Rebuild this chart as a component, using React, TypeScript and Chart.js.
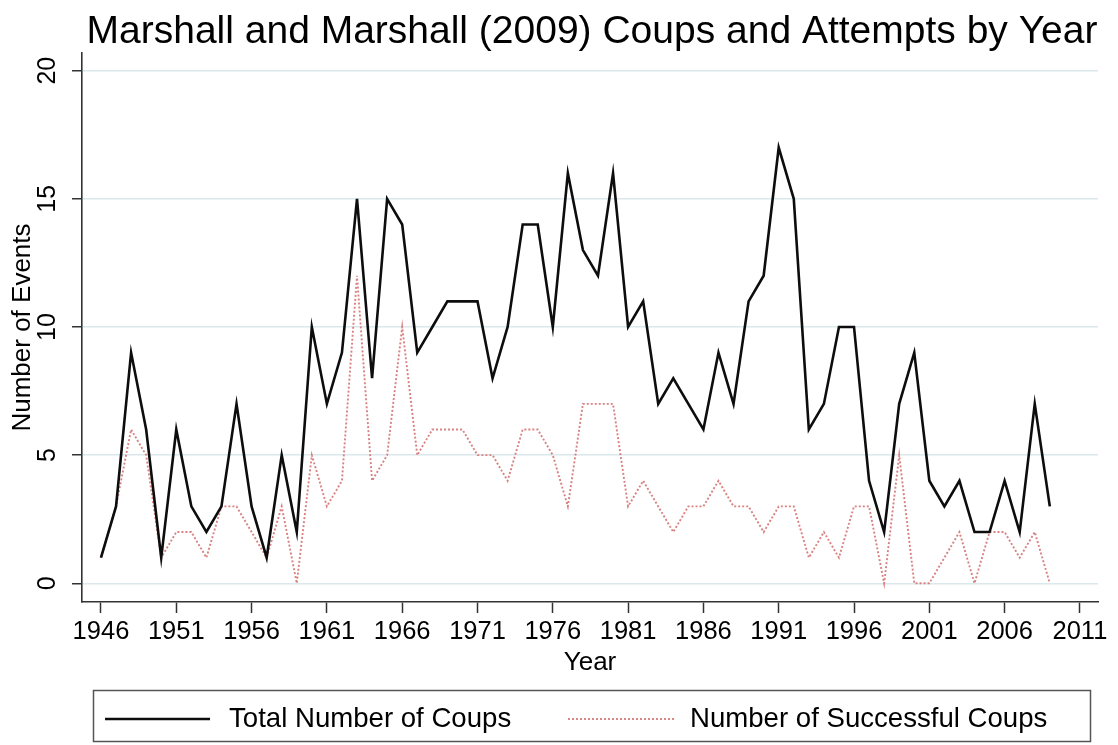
import { useEffect, useRef } from "react";
import { Chart, registerables } from "chart.js";

Chart.register(...registerables);

const FONT = '"Liberation Sans", Arial, Helvetica, sans-serif';

const titleText = "Marshall and Marshall (2009) Coups and Attempts by Year";
const xAxisTitle = "Year";
const yAxisTitle = "Number of Events";
const seriesLabels = ["Total Number of Coups", "Number of Successful Coups"];

const years = [
  1946, 1947, 1948, 1949, 1950, 1951, 1952, 1953, 1954, 1955,
  1956, 1957, 1958, 1959, 1960, 1961, 1962, 1963, 1964, 1965,
  1966, 1967, 1968, 1969, 1970, 1971, 1972, 1973, 1974, 1975,
  1976, 1977, 1978, 1979, 1980, 1981, 1982, 1983, 1984, 1985,
  1986, 1987, 1988, 1989, 1990, 1991, 1992, 1993, 1994, 1995,
  1996, 1997, 1998, 1999, 2000, 2001, 2002, 2003, 2004, 2005,
  2006, 2007, 2008, 2009,
];

const totalCoups = [
  1, 3, 9, 6, 1, 6, 3, 2, 3, 7,
  3, 1, 5, 2, 10, 7, 9, 15, 8, 15,
  14, 9, 10, 11, 11, 11, 8, 10, 14, 14,
  10, 16, 13, 12, 16, 10, 11, 7, 8, 7,
  6, 9, 7, 11, 12, 17, 15, 6, 7, 10,
  10, 4, 2, 7, 9, 4, 3, 4, 2, 2,
  4, 2, 7, 3,
];

const successfulCoups = [
  1, 3, 6, 5, 1, 2, 2, 1, 3, 3,
  2, 1, 3, 0, 5, 3, 4, 12, 4, 5,
  10, 5, 6, 6, 6, 5, 5, 4, 6, 6,
  5, 3, 7, 7, 7, 3, 4, 3, 2, 3,
  3, 4, 3, 3, 2, 3, 3, 1, 2, 1,
  3, 3, 0, 5, 0, 0, 1, 2, 0, 2,
  2, 1, 2, 0,
];

const xTickYears = [1946, 1951, 1956, 1961, 1966, 1971, 1976, 1981, 1986, 1991, 1996, 2001, 2006, 2011];
const yTickValues = [0, 5, 10, 15, 20];

const AXIS_COLOR = "#333333";
const GRID_COLOR = "#dbe8ec";

const overlayPlugin = {
  id: "overlay",
  afterDraw(chart: any) {
    const { ctx, chartArea, scales } = chart;
    ctx.save();
    // Title
    ctx.fillStyle = "#000";
    ctx.font = `39px ${FONT}`;
    ctx.textAlign = "center";
    ctx.textBaseline = "alphabetic";
    ctx.fillText(titleText, (chartArea.left + chartArea.right) / 2 + 2, 43);

    // Rotated y tick labels
    const ys = scales.y;
    ctx.font = `25px ${FONT}`;
    for (const v of yTickValues) {
      const py = ys.getPixelForValue(v);
      ctx.save();
      ctx.translate(chartArea.left - 34, py);
      ctx.rotate(-Math.PI / 2);
      ctx.textAlign = "center";
      ctx.textBaseline = "middle";
      ctx.fillText(String(v), 0, 0);
      ctx.restore();
    }

    // Legend
    ctx.strokeStyle = "#555";
    ctx.lineWidth = 1.5;
    ctx.strokeRect(93.5, 690.5, 997, 51);
    const ly = 719;
    const items = [
      { x0: 105, x1: 210, tx: 229 },
      { x0: 568, x1: 676, tx: 690 },
    ];
    chart.data.datasets.forEach((ds: any, i: number) => {
      const it = items[i];
      ctx.save();
      ctx.strokeStyle = ds.borderColor;
      ctx.lineWidth = ds.borderWidth;
      ctx.setLineDash(ds.borderDash || []);
      ctx.beginPath();
      ctx.moveTo(it.x0, ly);
      ctx.lineTo(it.x1, ly);
      ctx.stroke();
      ctx.restore();
      ctx.fillStyle = "#000";
      ctx.font = `27.6px ${FONT}`;
      ctx.textAlign = "left";
      ctx.textBaseline = "middle";
      ctx.fillText(ds.label, it.tx, ly);
    });
    ctx.restore();
  },
};

export default function App() {
  const canvasRef = useRef<HTMLCanvasElement | null>(null);

  useEffect(() => {
    document.body.style.margin = "0";
    const canvas = canvasRef.current;
    if (!canvas) return;
    Chart.defaults.font.family = FONT;
    const chart = new Chart(canvas, {
      type: "line",
      data: {
        datasets: [
          {
            label: seriesLabels[0],
            data: years.map((y, i) => ({ x: y, y: totalCoups[i] })),
            borderColor: "#0d0d0d",
            borderWidth: 2.6,
            pointRadius: 0,
            tension: 0,
            fill: false,
          },
          {
            label: seriesLabels[1],
            data: years.map((y, i) => ({ x: y, y: successfulCoups[i] })),
            borderColor: "#d98282",
            borderWidth: 1.9,
            borderDash: [2, 2],
            pointRadius: 0,
            tension: 0,
            fill: false,
          },
        ],
      },
      options: {
        animation: false,
        responsive: false,
        devicePixelRatio: 1,
        layout: { padding: { top: 53, right: 20, bottom: 63, left: 0 } },
        plugins: {
          legend: { display: false },
          title: { display: false },
          tooltip: { enabled: false },
        },
        scales: {
          x: {
            type: "linear",
            min: 1944.74,
            max: 2012.2,
            afterBuildTicks: (s: any) => {
              s.ticks = xTickYears.map((v) => ({ value: v }));
            },
            afterFit: (s: any) => {
              s.height = 80;
            },
            grid: {
              drawOnChartArea: false,
              drawTicks: true,
              tickLength: 11,
              tickColor: AXIS_COLOR,
              tickWidth: 1.5,
            },
            border: { color: AXIS_COLOR, width: 1.6 },
            ticks: {
              color: "#000",
              font: { size: 25.5, family: FONT },
              padding: 4,
              autoSkip: false,
              maxRotation: 0,
              minRotation: 0,
              callback: (v: any) => String(v),
            },
            title: {
              display: true,
              text: xAxisTitle,
              color: "#000",
              font: { size: 26, family: FONT },
              padding: { top: 0, bottom: 4 },
            },
          },
          y: {
            type: "linear",
            min: -0.73,
            max: 20.69,
            afterBuildTicks: (s: any) => {
              s.ticks = yTickValues.map((v) => ({ value: v }));
            },
            afterFit: (s: any) => {
              s.width = 82;
            },
            grid: {
              color: GRID_COLOR,
              lineWidth: 1.5,
              drawTicks: true,
              tickLength: 10,
              tickColor: AXIS_COLOR,
              tickWidth: 1.5,
            },
            border: { color: AXIS_COLOR, width: 1.6 },
            ticks: {
              color: "rgba(0,0,0,0)",
              font: { size: 25, family: FONT },
              callback: (v: any) => String(v),
            },
            title: {
              display: true,
              text: yAxisTitle,
              color: "#000",
              font: { size: 26, family: FONT },
              padding: { top: 7, bottom: 0 },
            },
          },
        },
      },
      plugins: [overlayPlugin],
    });
    return () => chart.destroy();
  }, []);

  return (
    <div style={{ width: 1118, height: 745 }}>
      <canvas ref={canvasRef} width={1118} height={745} style={{ display: "block" }} />
    </div>
  );
}
